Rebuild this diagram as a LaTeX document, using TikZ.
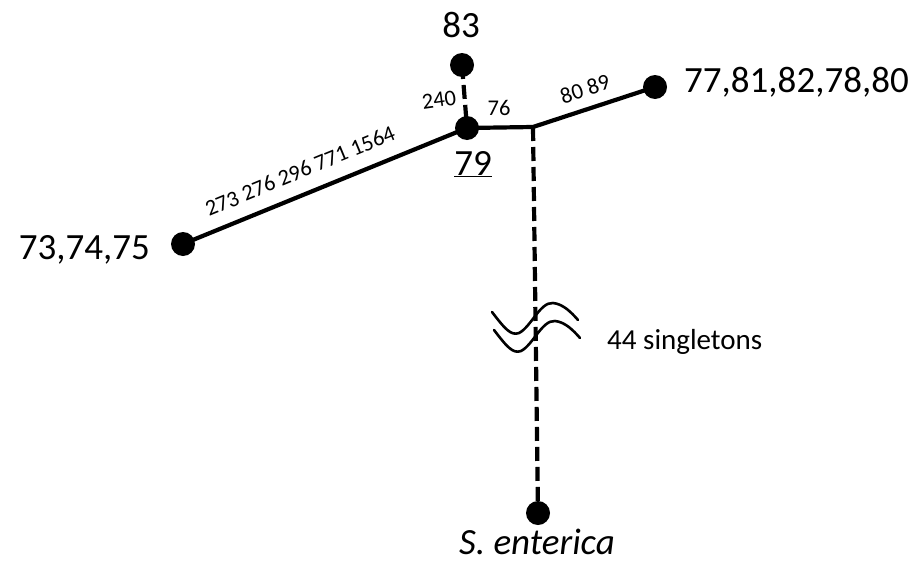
\documentclass[tikz,border=0pt]{standalone}
\usepackage{fontspec}
\setmainfont{Carlito}
\begin{document}
\begin{tikzpicture}[x=1pt,y=-1pt,
  dot/.style={circle,fill=black,inner sep=0pt,minimum size=24pt},
  junction/.style={inner sep=0pt,minimum size=0pt},
  edge/.style={line width=4.2pt},
  dashedge/.style={line width=4.2pt,dash pattern=on 14pt off 6pt},
  biglabel/.style={font=\fontsize{37}{40}\selectfont,inner sep=0pt},
  edgelabel/.style={font=\fontsize{22.5}{25}\selectfont,inner sep=0pt},
  breakmark/.style={line width=2.6pt,line cap=round}]
\useasboundingbox (0,0) rectangle (921,562);

% isolates and the branching point
\node[dot] (n79) at (467,128) {};
\node[dot] (n83) at (462,65) {};
\node[dot] (n73) at (183,244) {};
\node[dot] (n77) at (655,87) {};
\node[dot] (sent) at (538,513) {};
\node[junction] (j) at (533,127) {};

% branches
\draw[edge] (n73.center) -- (n79.center);
\draw[dashedge] (n83.center) -- (n79.center);
\draw[edge] (n79.center) -- (j.center) -- (n77.center);
\draw[dashedge] (j.center) -- (sent.center);

% break symbol on the long branch
\draw[breakmark] (492,312) .. controls (505,329) and (511,336) .. (519,333)
  .. controls (531,327) and (540,302) .. (553,303)
  .. controls (563,304) and (571,312) .. (578,320);
\draw[breakmark] (494,330) .. controls (507,347) and (513,354) .. (521,351)
  .. controls (533,345) and (542,320) .. (555,321)
  .. controls (565,322) and (573,330) .. (580,338);

% node labels
\node[biglabel,anchor=base] (l83) at (461,37) {83};
\node[biglabel,anchor=base] (l79) at (473,175) {\underline{79}};
\node[biglabel,anchor=base east] (l73) at (150,259) {73,74,75};
\node[biglabel,anchor=base west] (l77) at (684,92) {77,81,82,78,80};
\node[biglabel,anchor=base] (lsent) at (537,554) {\textit{S. enterica}};

% branch labels
\node[edgelabel,rotate=8] (e240) at (439,100) {240};
\node[edgelabel] (e76) at (499,108) {76};
\node[edgelabel,rotate=18] (e8089) at (585,89) {80 89};
\node[edgelabel,rotate=22.5] (elong) at (300,171) {273 276 296 771 1564};
\node[font=\fontsize{29}{32}\selectfont,inner sep=0pt,anchor=west] (single) at (607,342) {44 singletons};
\end{tikzpicture}
\end{document}
